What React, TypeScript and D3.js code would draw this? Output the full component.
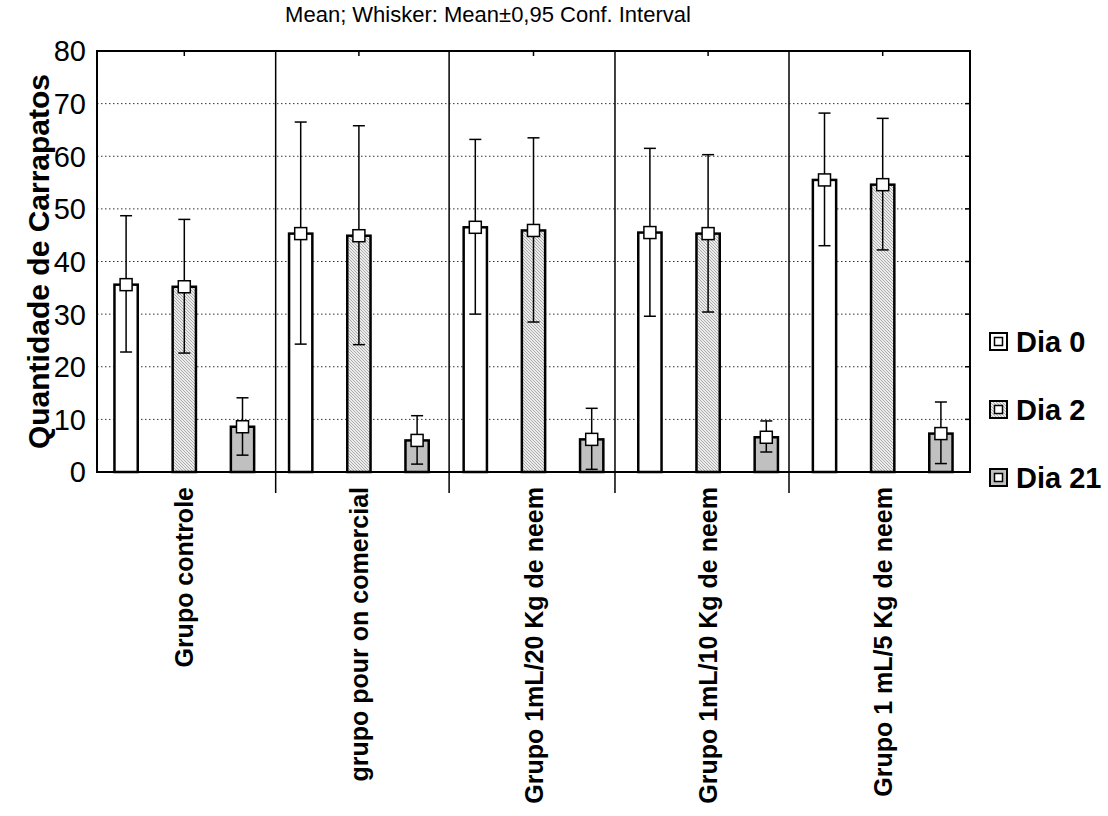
import React from 'react';
import * as d3 from 'd3';

const width = 1108;
const height = 816;
const left = 97;
const right = 970;
const top = 51;
const bottom = 472;

const groups = [
  'Grupo controle',
  'grupo pour on comercial',
  'Grupo 1mL/20 Kg de neem',
  'Grupo 1mL/10 Kg de neem',
  'Grupo 1 mL/5 Kg de neem',
];
const series = ['Dia 0', 'Dia 2', 'Dia 21'];

// mean per group, one value per series
const means = [
  [35.6, 35.2, 8.6],
  [45.3, 44.9, 6.0],
  [46.5, 45.9, 6.2],
  [45.5, 45.3, 6.6],
  [55.5, 54.6, 7.3],
];
const upper = [
  [48.7, 48.0, 14.1],
  [66.5, 65.8, 10.7],
  [63.2, 63.5, 12.1],
  [61.5, 60.3, 9.7],
  [68.2, 67.2, 13.3],
];
const lower = [
  [22.8, 22.6, 3.2],
  [24.3, 24.2, 1.5],
  [30.0, 28.5, 0.5],
  [29.6, 30.4, 3.8],
  [43.0, 42.2, 1.6],
];

const yTicks = [0, 10, 20, 30, 40, 50, 60, 70, 80];
// statistica puts the group dividers a little off the slot boundaries
const dividers = [3.07, 6.05, 8.9, 11.89];

const fills = ['#ffffff', 'url(#hatch)', '#c0c0c0'];

const slots = groups.flatMap((g, gi) => series.map((s, si) => `${gi}-${si}`));

const x = d3.scaleBand().domain(slots).range([left, right]).paddingInner(0.6).paddingOuter(0.3);
const slotX = d3.scaleLinear().domain([0, slots.length]).range([left, right]);
const y = d3.scaleLinear().domain([0, 80]).range([bottom, top]);

const font = 'Arial, "Liberation Sans", sans-serif';

function App() {
  const bw = x.bandwidth();
  const cap = 6;
  const mk = 6;

  const bars = [];
  groups.forEach((g, gi) => {
    series.forEach((s, si) => {
      const key = `${gi}-${si}`;
      const x0 = x(key);
      const cx = x0 + bw / 2;
      bars.push(
        <g key={key}>
          <rect x={x0} y={y(means[gi][si])} width={bw} height={bottom - y(means[gi][si])}
            fill={fills[si]} stroke="#000" strokeWidth={2.5} />
          <line x1={cx} x2={cx} y1={y(lower[gi][si])} y2={y(upper[gi][si])} stroke="#000" strokeWidth={1.5} />
          <line x1={cx - cap} x2={cx + cap} y1={y(lower[gi][si])} y2={y(lower[gi][si])} stroke="#000" strokeWidth={1.5} />
          <line x1={cx - cap} x2={cx + cap} y1={y(upper[gi][si])} y2={y(upper[gi][si])} stroke="#000" strokeWidth={1.5} />
          <rect x={cx - mk} y={y(means[gi][si]) - mk} width={mk * 2} height={mk * 2}
            fill="#fff" stroke="#000" strokeWidth={1.5} />
        </g>
      );
    });
  });

  const groupCenters = groups.map((g, gi) => x(`${gi}-1`) + bw / 2);

  return (
    <svg width={width} height={height} style={{ position: 'absolute', left: 0, top: 0 }}
      fontFamily={font}>
      <defs>
        <pattern id="hatch" width="3" height="3" patternUnits="userSpaceOnUse">
          <rect width="3" height="3" fill="#ececec" />
          <path d="M-1,-1 L4,4 M-1,2 L1,4 M2,-1 L4,1" stroke="#9a9a9a" strokeWidth="0.8" />
        </pattern>
      </defs>
      <rect width={width} height={height} fill="#fff" />

      <text x={488} y={22} textAnchor="middle" fontSize={22}>
        Mean; Whisker: Mean±0,95 Conf. Interval
      </text>

      {yTicks.filter(t => t > 0 && t < 80).map(t => (
        <line key={t} x1={left} x2={right} y1={y(t)} y2={y(t)} stroke="#333" strokeWidth={1}
          strokeDasharray="1.5,2.5" />
      ))}
      {yTicks.map(t => (
        <g key={'t' + t}>
          <text x={left - 11} y={y(t)} dy="0.36em" textAnchor="end" fontSize={29}>{t}</text>
          <line x1={right - 5} x2={right} y1={y(t)} y2={y(t)} stroke="#000" strokeWidth={1.5} />
        </g>
      ))}

      {dividers.map(d => (
        <line key={d} x1={slotX(d)} x2={slotX(d)} y1={top} y2={bottom + 21} stroke="#000" strokeWidth={1.5} />
      ))}
      {groupCenters.map((c, i) => (
        <g key={'c' + i}>
          <line x1={c} x2={c} y1={top} y2={top + 5} stroke="#000" strokeWidth={1.5} />
          <line x1={c} x2={c} y1={bottom} y2={bottom - 5} stroke="#000" strokeWidth={1.5} />
        </g>
      ))}

      {bars}

      <rect x={left} y={top} width={right - left} height={bottom - top} fill="none" stroke="#000" strokeWidth={2} />

      {groups.map((g, i) => (
        <text key={g} transform={`translate(${groupCenters[i]},${bottom + 15}) rotate(-90)`}
          dy="0.36em" textAnchor="end" fontSize={25} fontWeight="bold">{g}</text>
      ))}

      <text transform={`translate(38,${(top + bottom) / 2}) rotate(-90)`} textAnchor="middle"
        dy="0.36em" fontSize={30} fontWeight="bold">Quantidade de Carrapatos</text>

      {series.map((s, i) => {
        const ly = 342 + i * 68;
        return (
          <g key={s}>
            <rect x={990} y={ly - 9} width={17} height={17} fill={fills[i]} stroke="#000" strokeWidth={2} />
            <rect x={994.5} y={ly - 4.5} width={8} height={8} fill="#fff" stroke="#000" strokeWidth={1.5} />
            <text x={1016} y={ly} dy="0.36em" fontSize={29} fontWeight="bold">{s}</text>
          </g>
        );
      })}
    </svg>
  );
}

export default App;
